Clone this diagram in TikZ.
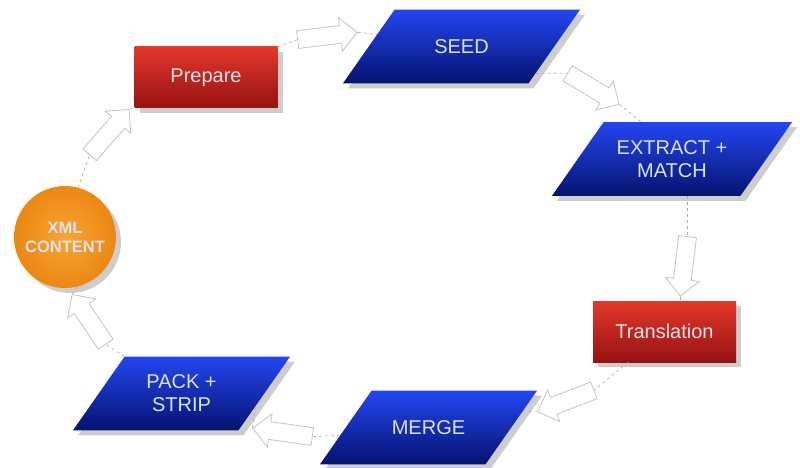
\documentclass[tikz,border=0pt]{standalone}
\usepackage{fontspec}
\setmainfont{Liberation Sans}
\usepackage{xcolor}
\usetikzlibrary{calc,arrows.meta,positioning,shapes.geometric,shapes.arrows,shadows}
\definecolor{bluetop}{HTML}{2446F2}
\definecolor{bluebot}{HTML}{04136E}
\definecolor{redtop}{HTML}{E4382A}
\definecolor{redbot}{HTML}{961212}
\definecolor{orangein}{HTML}{F7A533}
\definecolor{orangeout}{HTML}{EC8812}
\definecolor{labeltext}{HTML}{DCE3EE}
\definecolor{arrowgray}{HTML}{C4C4C4}
\definecolor{dashgray}{HTML}{A8A8A8}
\definecolor{shadowgray}{HTML}{B8B8B8}

\tikzset{
  boxshadow/.style={drop shadow={shadow xshift=5pt, shadow yshift=-5pt, fill=shadowgray, opacity=0.7}},
  redbox/.style={
    rectangle,
    top color=redtop,
    bottom color=redbot,
    boxshadow,
    minimum width=143pt,
    minimum height=61pt,
    text=labeltext,
    font=\fontsize{20}{22}\selectfont
  },
  bluebox/.style={
    trapezium,
    trapezium left angle=55,
    trapezium right angle=125,
    trapezium stretches body,
    top color=bluetop,
    bottom color=bluebot,
    boxshadow,
    inner xsep=2pt,
    inner ysep=29.7pt,
    text=labeltext,
    align=center,
    font=\fontsize{20}{23}\selectfont
  },
  bluetwo/.style={bluebox, inner ysep=18.2pt},
  xmlball/.style={
    circle,
    inner color=orangein,
    outer color=orangeout,
    boxshadow,
    minimum size=102pt,
    text=labeltext,
    align=center,
    font=\bfseries\fontsize{16.5}{19}\selectfont
  },
  flowarrow/.style={
    single arrow,
    draw=arrowgray,
    fill=white,
    line width=0.8pt,
    minimum height=60pt,
    inner sep=8.5pt,
    single arrow head extend=8pt,
    single arrow tip angle=90
  },
  guide/.style={draw=dashgray, dashed, line width=0.6pt}
}

\begin{document}
\begin{tikzpicture}[x=1pt,y=-1pt]
  \useasboundingbox (0,0) rectangle (800,468);

  % process steps
  \node[xmlball] (xml) at (65,237) {XML\\CONTENT};
  \node[redbox] (prep) at (206,77.5) {Prepare};
  \node[bluebox, minimum width=237pt] (seed) at (461.5,46.5) {SEED};
  \node[bluetwo, minimum width=240pt] (ext) at (672,159) {EXTRACT +\\MATCH};
  \node[redbox] (trans) at (664.5,331.5) {Translation};
  \node[bluebox, minimum width=217pt] (merge) at (428.5,427.5) {MERGE};
  \node[bluetwo, minimum width=217pt] (pack) at (181.5,393.5) {PACK +\\STRIP};

  % hollow block arrows
  \node[flowarrow, rotate=49] (a1) at (106.5,135.5) {};
  \node[flowarrow, rotate=7] (a2) at (323,36.5) {};
  \node[flowarrow, rotate=-31] (a3) at (589.5,86.5) {};
  \node[flowarrow, rotate=-97] (a4) at (684.5,262) {};
  \node[flowarrow, rotate=201] (a5) at (570,399.5) {};
  \node[flowarrow, rotate=172] (a6) at (287,433) {};
  \node[flowarrow, rotate=124] (a7) at (91.5,323) {};

  % dashed guides
  \draw[guide] (xml.75) -- (a1.tail);
  \draw[guide] (a1.tip) -- (prep.south west);
  \draw[guide] (prep.north east) -- (a2.tail);
  \draw[guide] (a2.tip) -- (seed.172);
  \draw[guide] (seed.-20) -- (a3.tail);
  \draw[guide] (a3.tip) -- (ext.130);
  \draw[guide] (a4.tail |- ext.south) -- (a4.tail);
  \draw[guide] (a4.tip) -- (a4.tip |- trans.north);
  \draw[guide] (trans.-140) -- (a5.tail);
  \draw[guide] (a5.tip) -- (merge.10);
  \draw[guide] (merge.185) -- (a6.tail);
  \draw[guide] (a6.tip) -- (pack.-10);
  \draw[guide] (pack.top left corner) -- (a7.tail);
  \draw[guide] (a7.tip) -- (xml.-75);
\end{tikzpicture}
\end{document}
